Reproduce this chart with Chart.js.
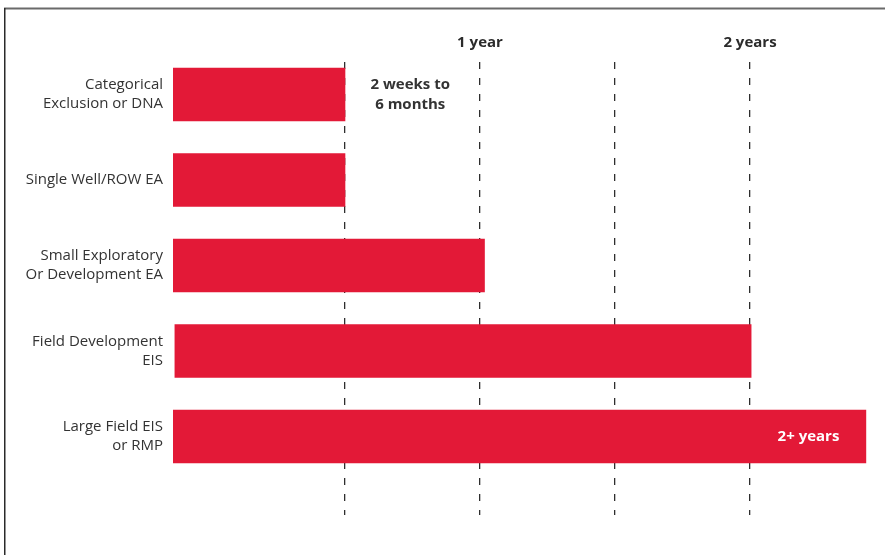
<!DOCTYPE html>
<html>
<head>
<meta charset="utf-8">
<script src="https://cdn.jsdelivr.net/npm/chart.js@4"></script>
<style>
  html, body { margin: 0; padding: 0; background: #fff; }
  #wrap { width: 885px; height: 555px; position: relative; }
</style>
</head>
<body>
<div id="wrap"><canvas id="c" width="885" height="555"></canvas></div>
<script>
// Categories (multi-line labels)
const categories = [
  ["Categorical", "Exclusion or DNA"],
  ["Single Well/ROW EA"],
  ["Small Exploratory", "Or Development EA"],
  ["Field Development", "EIS"],
  ["Large Field EIS", "or RMP"]
];
// Durations in months (floating bars: start, end)
const barStarts = [-1.64, -1.64, -1.64, -1.56, -1.64];
const barEnds = [6, 6, 12.2, 24.05, 29.15];
// Time marks (months) and their labels
const gridMonths = [6, 12, 18, 24];
const gridLabels = { 12: "1 year", 24: "2 years" };
// Annotations
const annotations = [
  { lines: ["2 weeks to", "6 months"], x: 8.9, cat: 0, color: "#333333" },
  { lines: ["2+ years"], x: 26.6, cat: 4, color: "#ffffff" }
];

const RED = "#E31937";
const FONT = "'Open Sans', 'DejaVu Sans', sans-serif";

const framePlugin = {
  id: 'frame',
  afterDraw(chart) {
    const ctx = chart.ctx;
    ctx.save();
    ctx.strokeStyle = '#6a6a6a';
    ctx.lineWidth = 2;
    ctx.beginPath();
    ctx.moveTo(4, 8.5);
    ctx.lineTo(885, 8.5);
    ctx.stroke();
    ctx.strokeStyle = '#2a2a2a';
    ctx.lineWidth = 1.5;
    ctx.beginPath();
    ctx.moveTo(4.75, 8);
    ctx.lineTo(4.75, 555);
    ctx.stroke();
    ctx.restore();
  }
};

const annotPlugin = {
  id: 'annot',
  afterDatasetsDraw(chart) {
    const ctx = chart.ctx;
    const xs = chart.scales.x, ys = chart.scales.y;
    ctx.save();
    ctx.font = "bold 15px " + FONT;
    ctx.textAlign = 'center';
    ctx.textBaseline = 'middle';
    annotations.forEach(a => {
      ctx.fillStyle = a.color;
      const px = xs.getPixelForValue(a.x);
      const py = ys.getPixelForValue(a.cat);
      const lh = 20;
      const y0 = py - (a.lines.length - 1) * lh / 2;
      a.lines.forEach((t, i) => ctx.fillText(t, px, y0 + i * lh));
    });
    ctx.restore();
  }
};

new Chart(document.getElementById('c'), {
  type: 'bar',
  data: {
    datasets: [{
      data: categories.map((c, i) => ({ x: [barStarts[i], barEnds[i]], y: i })),
      backgroundColor: RED,
      borderWidth: 0,
      barThickness: 53
    }]
  },
  options: {
    indexAxis: 'y',
    responsive: false,
    animation: false,
    layout: { padding: { left: 0, right: 0, top: 0, bottom: 40 } },
    plugins: { legend: { display: false }, tooltip: { enabled: false } },
    scales: {
      x: {
        type: 'linear',
        position: 'top',
        min: -1.644,
        max: 30,
        z: 1,
        afterBuildTicks: (axis) => { axis.ticks = gridMonths.map(v => ({ value: v })); },
        afterFit: (axis) => { axis.height = 62; },
        ticks: {
          autoSkip: false,
          maxRotation: 0,
          padding: 10,
          color: '#2b2b2b',
          font: { family: FONT, size: 15, weight: 'bold' },
          callback: (v) => gridLabels[v] || ''
        },
        grid: {
          drawTicks: false,
          color: '#2e2e2e',
          lineWidth: 1.3
        },
        border: { display: false, dash: [7, 9] }
      },
      y: {
        type: 'linear',
        reverse: true,
        offset: false,
        min: -0.38,
        max: 4.918,
        afterBuildTicks: (axis) => { axis.ticks = categories.map((c, i) => ({ value: i })); },
        afterFit: (axis) => { axis.width = 173; },
        ticks: {
          autoSkip: false,
          padding: 10,
          color: '#333333',
          font: { family: FONT, size: 15, lineHeight: 1.27 },
          callback: (v) => categories[v]
        },
        grid: { display: false, drawTicks: false, offset: false },
        border: { display: false }
      }
    }
  },
  plugins: [framePlugin, annotPlugin]
});
</script>
</body>
</html>
